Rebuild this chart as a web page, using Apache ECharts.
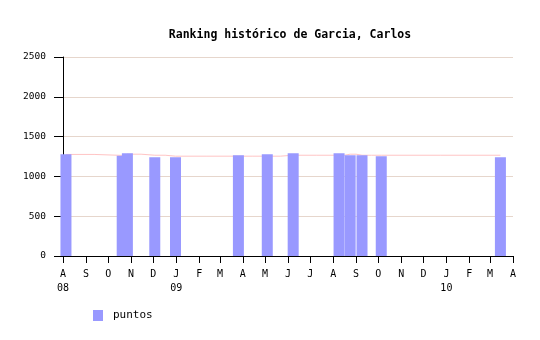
<!DOCTYPE html>
<html>
<head>
<meta charset="utf-8">
<script src="https://cdn.jsdelivr.net/npm/echarts@6/dist/echarts.min.js"></script>
<style>html,body{margin:0;padding:0;background:#fff}#c{width:540px;height:340px}</style>
</head>
<body>
<div id="c"></div>
<script>
const titleText = 'Ranking histórico de Garcia, Carlos';
const seriesName = 'puntos';
const dates = ['2008-08-05','2008-10-20','2008-10-27','2008-12-03','2008-12-31','2009-03-26','2009-05-04','2009-06-08','2009-08-09','2009-08-24','2009-09-09','2009-10-05','2010-03-15'];
const puntos = [1279,1258,1291,1241,1241,1266,1279,1291,1291,1266,1266,1254,1241];
const trend = [1276,1264,1279,1266,1254,1254,1254,1266,1266,1279,1266,1266,1266];
const tickMonths = ['2008-08','2008-09','2008-10','2008-11','2008-12','2009-01','2009-02','2009-03','2009-04','2009-05','2009-06','2009-07','2009-08','2009-09','2009-10','2009-11','2009-12','2010-01','2010-02','2010-03','2010-04'];
const monthLetters = ['J','F','M','A','M','J','J','A','S','O','N','D'];
const yTicks = [0,500,1000,1500,2000,2500];

const toTime = s => { const p = s.split('-').map(Number); return Date.UTC(p[0], p[1]-1, p[2] || 1); };
const tickTimes = tickMonths.map(toTime);
const xMin = tickTimes[0], xMax = tickTimes[tickTimes.length-1];
const font = 'DejaVu Sans Mono';

const chart = echarts.init(document.getElementById('c'));
chart.setOption({
  animation: false,
  backgroundColor: '#fff',
  title: {
    text: titleText,
    left: 285, top: 24, textAlign: 'center',
    textStyle: {fontFamily: font, fontSize: 11.5, fontWeight: 'bold', color: '#000'}
  },
  legend: {
    data: [seriesName], left: 88, top: 305, icon: 'rect', itemWidth: 10, itemHeight: 11, itemGap: 10,
    textStyle: {fontFamily: font, fontSize: 11, color: '#000', padding: [0, 0, 0, 5]}
  },
  grid: {left: 63, right: 27, top: 57, bottom: 84, containLabel: false},
  xAxis: {
    type: 'value', min: xMin, max: xMax, scale: true,
    axisLine: {show: true, onZero: false, lineStyle: {color: '#000', width: 1}},
    axisTick: {show: true, length: 7, lineStyle: {color: '#000'}, customValues: tickTimes},
    axisLabel: {
      customValues: tickTimes, margin: 11, color: '#000', fontFamily: font, fontSize: 10, lineHeight: 14,
      showMinLabel: true, showMaxLabel: true, hideOverlap: false,
      formatter: function (v) {
        const d = new Date(v);
        const m = d.getUTCMonth();
        let s = monthLetters[m];
        if (m === 0 || v === xMin) s += '\n' + String(d.getUTCFullYear()).slice(2);
        return s;
      }
    },
    splitLine: {show: false}
  },
  yAxis: {
    type: 'value', min: yTicks[0], max: yTicks[yTicks.length-1], interval: 500,
    axisLine: {show: true, lineStyle: {color: '#000', width: 1}},
    axisTick: {show: true, length: 9, lineStyle: {color: '#000'}},
    axisLabel: {margin: 17, color: '#000', fontFamily: font, fontSize: 9.5, padding: [3,0,0,0],
      formatter: v => String(v)},
    splitLine: {show: true, lineStyle: {color: '#e6d6cc', width: 1}}
  },
  series: [
    {
      name: 'tendencia', type: 'line', step: 'middle', z: 1, symbol: 'none', silent: true,
      lineStyle: {color: '#ffc4c4', width: 1}, itemStyle: {color: '#ffc4c4'},
      data: dates.map((d, i) => [toTime(d), trend[i]])
    },
    {
      name: seriesName, type: 'bar', z: 2, barWidth: 11,
      itemStyle: {color: '#9999ff'},
      data: dates.map((d, i) => [toTime(d), puntos[i]])
    }
  ]
});
</script>
</body>
</html>
